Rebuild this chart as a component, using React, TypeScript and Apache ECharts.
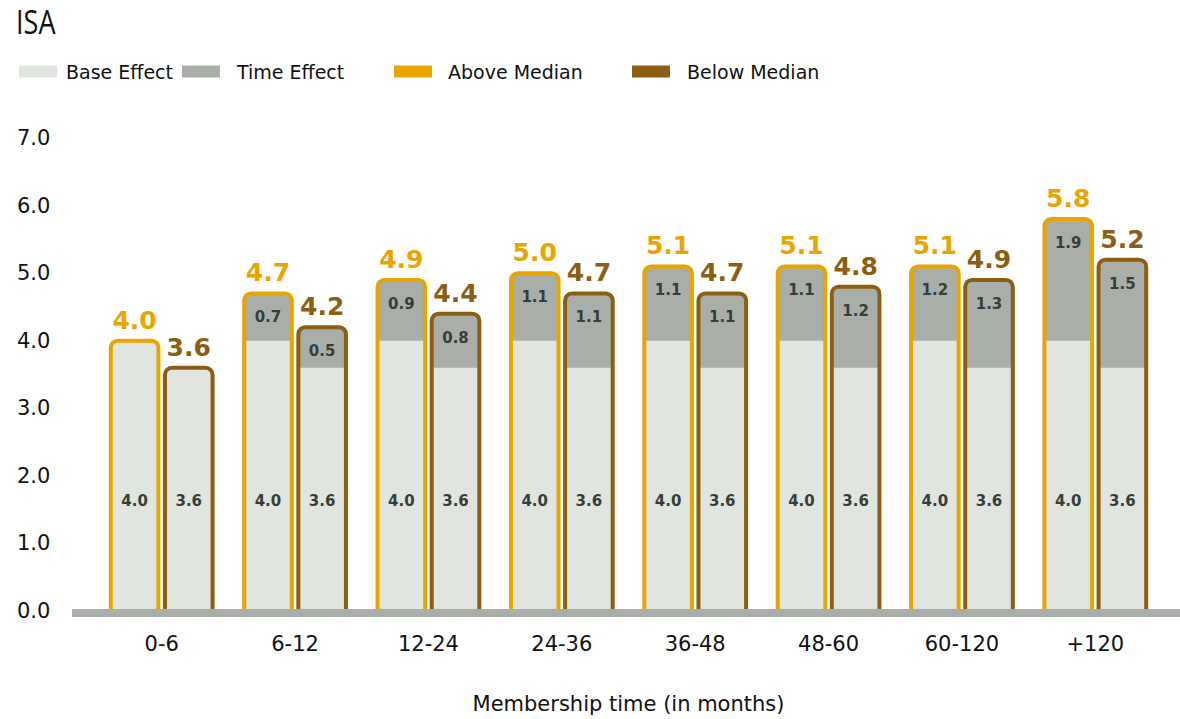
import React, { useEffect, useRef } from "react";
import * as echarts from "echarts";

// Membership time buckets (months)
const categories = ["0-6", "6-12", "12-24", "24-36", "36-48", "48-60", "60-120", "+120"];

// Above-median group
const aboveBase = [4.0, 4.0, 4.0, 4.0, 4.0, 4.0, 4.0, 4.0];
const aboveTime = [0, 0.7, 0.9, 1.1, 1.1, 1.1, 1.2, 1.9];
const aboveTotal = [4.0, 4.7, 4.9, 5.0, 5.1, 5.1, 5.1, 5.8];

// Below-median group
const belowBase = [3.6, 3.6, 3.6, 3.6, 3.6, 3.6, 3.6, 3.6];
const belowTime = [0, 0.5, 0.8, 1.1, 1.1, 1.2, 1.3, 1.5];
const belowTotal = [3.6, 4.2, 4.4, 4.7, 4.7, 4.8, 4.9, 5.2];

const BASE_FILL = "#E1E5E0";
const TIME_FILL = "#A9AFA8";
const ABOVE = "#E8A500";
const BELOW = "#8C5E12";
const INNER_TEXT = "#363E39";
const FONT = '"DejaVu Sans", Verdana, sans-serif';

function makeRenderer(side: number, outline: string) {
  return (_params: any, api: any) => {
    const idx = api.value(0);
    const base = api.value(1);
    const time = api.value(2);
    const total = api.value(3);
    const band = api.size([1, 0])[0];
    const w = band * 0.357;
    const half = band * 0.0245;
    const [xc, y0] = api.coord([idx, 0]);
    const yBase = api.coord([idx, base])[1];
    const yTop = api.coord([idx, total])[1];
    const x = side < 0 ? xc - half - w : xc + half;
    const cx = x + w / 2;
    const r = 7;
    const outer = { x, y: yTop, width: w, height: y0 - yTop, r: [r, r, 0, 0] };
    const children: any[] = [
      { type: "rect", shape: outer, style: { fill: TIME_FILL } },
      {
        type: "rect",
        shape: { x, y: yBase, width: w, height: y0 - yBase, r: time > 0 ? 0 : [r, r, 0, 0] },
        style: { fill: BASE_FILL },
      },
      { type: "rect", shape: outer, style: { fill: "none", stroke: outline, lineWidth: 4 } },
      {
        type: "text",
        style: {
          text: base.toFixed(1),
          x: cx,
          y: y0 - 110,
          align: "center",
          verticalAlign: "middle",
          fill: INNER_TEXT,
          font: `bold 15px ${FONT}`,
        },
      },
      {
        type: "text",
        style: {
          text: total.toFixed(1),
          x: cx,
          y: yTop - 8,
          align: "center",
          verticalAlign: "bottom",
          fill: outline,
          font: `bold 25px ${FONT}`,
        },
      },
    ];
    if (time > 0) {
      children.push({
        type: "text",
        style: {
          text: time.toFixed(1),
          x: cx,
          y: yTop + 24,
          align: "center",
          verticalAlign: "middle",
          fill: INNER_TEXT,
          font: `bold 15px ${FONT}`,
        },
      });
    }
    return { type: "group", children };
  };
}

function legendAt(name: string, left: number, pad: number) {
  return {
    data: [name],
    left,
    top: 62,
    icon: "rect",
    itemWidth: 38,
    itemHeight: 12,
    padding: 0,
    selectedMode: false,
    textStyle: { fontFamily: FONT, fontSize: 19, color: "#111", padding: [0, 0, 0, pad] },
  };
}

export default function App() {
  const ref = useRef<HTMLDivElement>(null);

  useEffect(() => {
    if (!ref.current) return;
    const chart = echarts.init(ref.current, undefined, { renderer: "svg" });
    chart.setOption({
      animation: false,
      backgroundColor: "#ffffff",
      legend: [
        legendAt("Base Effect", 19, 4),
        legendAt("Time Effect", 182, 12),
        legendAt("Above Median", 394, 11),
        legendAt("Below Median", 632, 12),
      ],
      grid: { left: 95, right: 18, top: 138, bottom: 106 },
      xAxis: {
        type: "category",
        data: categories,
        axisLine: { show: false },
        axisTick: { show: false },
        axisLabel: { fontFamily: FONT, fontSize: 21, color: "#111", margin: 22 },
        name: "Membership time (in months)",
        nameLocation: "middle",
        nameGap: 82,
        nameTextStyle: { fontFamily: FONT, fontSize: 21, color: "#111" },
      },
      yAxis: {
        type: "value",
        min: 0,
        max: 7,
        interval: 1,
        splitLine: { show: false },
        axisLine: { show: false },
        axisTick: { show: false },
        axisLabel: {
          fontFamily: FONT,
          fontSize: 21,
          color: "#111",
          align: "left",
          margin: 78,
          formatter: (v: number) => v.toFixed(1),
        },
      },
      graphic: [
        {
          type: "text",
          left: 16,
          top: 5,
          scaleX: 0.82,
          style: {
            text: "ISA",
            fill: "#111",
            font: '33px "Open Sans", sans-serif',
          },
        },
        {
          type: "rect",
          left: 72,
          top: 609,
          shape: { width: 1108, height: 8 },
          style: { fill: TIME_FILL },
          z: 100,
        },
      ],
      series: [
        { name: "Base Effect", type: "bar", data: [], itemStyle: { color: BASE_FILL } },
        { name: "Time Effect", type: "bar", data: [], itemStyle: { color: TIME_FILL } },
        {
          name: "Above Median",
          type: "custom",
          itemStyle: { color: ABOVE },
          encode: { x: 0, y: [1, 3] },
          data: categories.map((_, i) => [i, aboveBase[i], aboveTime[i], aboveTotal[i]]),
          renderItem: makeRenderer(-1, ABOVE),
        },
        {
          name: "Below Median",
          type: "custom",
          itemStyle: { color: BELOW },
          encode: { x: 0, y: [1, 3] },
          data: categories.map((_, i) => [i, belowBase[i], belowTime[i], belowTotal[i]]),
          renderItem: makeRenderer(1, BELOW),
        },
      ],
    });
    return () => chart.dispose();
  }, []);

  return (
    <div style={{ position: "fixed", left: 0, top: 0, width: 1180, height: 719, background: "#fff" }}>
      <div ref={ref} style={{ width: 1180, height: 719 }} />
    </div>
  );
}
